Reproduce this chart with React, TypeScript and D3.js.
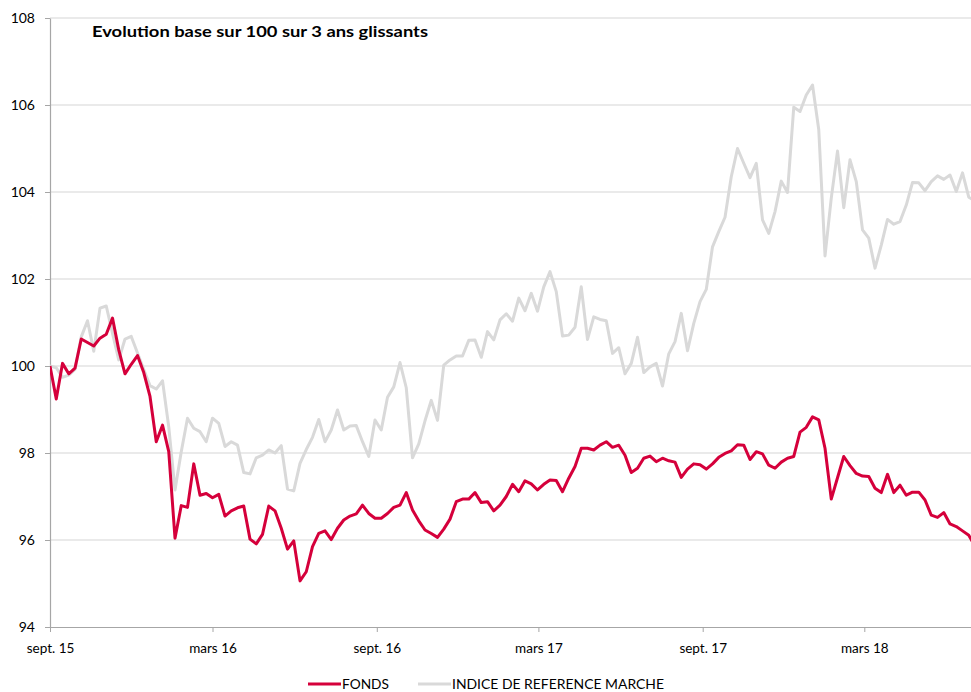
import React, { useRef, useEffect } from "react";
import * as d3 from "d3";

// weekly values, first week = 1 Sept 2015
const fonds = [
  100.0, 99.24, 100.06, 99.82, 99.95, 100.62, 100.54, 100.46, 100.64, 100.73,
  101.1, 100.37, 99.82, 100.04, 100.24, 99.85, 99.3, 98.26, 98.64, 98.03,
  96.04, 96.79, 96.75, 97.75, 97.03, 97.07, 96.97, 97.05, 96.55, 96.67,
  96.74, 96.78, 96.02, 95.91, 96.13, 96.78, 96.67, 96.27, 95.79, 95.98,
  95.06, 95.27, 95.85, 96.15, 96.21, 96.01, 96.27, 96.46, 96.55, 96.6,
  96.8, 96.61, 96.5, 96.5, 96.61, 96.75, 96.8, 97.09, 96.69, 96.44,
  96.23, 96.15, 96.06, 96.25, 96.48, 96.88, 96.94, 96.94, 97.09, 96.86,
  96.88, 96.67, 96.8, 97.0, 97.28, 97.11, 97.36, 97.29, 97.15, 97.28,
  97.38, 97.37, 97.11, 97.42, 97.69, 98.11, 98.11, 98.07, 98.18, 98.26,
  98.13, 98.18, 97.95, 97.55, 97.65, 97.88, 97.93, 97.8, 97.88, 97.82,
  97.79, 97.44, 97.63, 97.75, 97.73, 97.63, 97.75, 97.9, 97.99, 98.05,
  98.19, 98.18, 97.85, 98.03, 97.98, 97.72, 97.65, 97.79, 97.88, 97.92,
  98.48, 98.59, 98.83, 98.76, 98.11, 96.94, 97.43, 97.92, 97.71, 97.53,
  97.47, 97.46, 97.19, 97.09, 97.51, 97.09, 97.26, 97.03, 97.1, 97.1,
  96.92, 96.57, 96.52, 96.63, 96.37, 96.31, 96.21, 96.11, 95.85,
];

const indice = [
  100.0, 99.96, 99.74, 99.79, 99.92, 100.67, 101.04, 100.34, 101.33, 101.38,
  100.75, 100.14, 100.62, 100.68, 100.3, 99.92, 99.55, 99.47, 99.66, 98.6,
  97.15, 98.03, 98.8, 98.57, 98.49, 98.26, 98.8, 98.68, 98.15, 98.26,
  98.18, 97.55, 97.52, 97.89, 97.95, 98.07, 98.0, 98.17, 97.17, 97.13,
  97.76, 98.08, 98.36, 98.77, 98.26, 98.53, 98.99, 98.53, 98.62, 98.63,
  98.26, 97.92, 98.76, 98.53, 99.28, 99.52, 100.08, 99.5, 97.89, 98.21,
  98.74, 99.21, 98.75, 100.02, 100.14, 100.23, 100.23, 100.59, 100.6, 100.2,
  100.79, 100.6, 101.06, 101.2, 101.03, 101.56, 101.27, 101.67, 101.26, 101.82,
  102.17, 101.71, 100.69, 100.71, 100.89, 101.82, 100.61, 101.13, 101.07, 101.04,
  100.29, 100.42, 99.82, 100.06, 100.66, 99.85, 99.98, 100.06, 99.54, 100.28,
  100.56, 101.21, 100.35, 100.98, 101.48, 101.76, 102.74, 103.09, 103.42, 104.35,
  105.0, 104.66, 104.33, 104.66, 103.36, 103.05, 103.55, 104.25, 103.99, 105.95,
  105.85, 106.23, 106.46, 105.43, 102.53, 103.86, 104.94, 103.64, 104.74, 104.24,
  103.13, 102.94, 102.25, 102.78, 103.37, 103.26, 103.32, 103.7, 104.22, 104.21,
  104.03, 104.24, 104.37, 104.29, 104.39, 104.01, 104.44, 103.88, 103.8,
];

const yTicks = [94, 96, 98, 100, 102, 104, 106, 108];
const xTickDates = ["2015-09-01", "2016-03-01", "2016-09-01", "2017-03-01", "2017-09-01", "2018-03-01"];
const xTickLabels = ["sept. 15", "mars 16", "sept. 16", "mars 17", "sept. 17", "mars 18"];

const title = "Evolution base sur 100 sur 3 ans glissants";
const seriesNames = ["FONDS", "INDICE DE REFERENCE MARCHE"];
const colors = ["#d5003b", "#d9d9d9"];

export default function App() {
  const svgRef = useRef<SVGSVGElement>(null);

  useEffect(() => {
    if (!svgRef.current) return;
    const svg = d3.select(svgRef.current);
    svg.selectAll("*").remove();

    const width = 971;
    const height = 692;
    const left = 50;
    const top = 18;
    const bottom = 627;
    const font = "Lato, 'Open Sans', sans-serif";

    const start = new Date(2015, 8, 1);
    const day = 24 * 3600 * 1000;
    const end = new Date(start.getTime() + 1031.5 * day);
    const dateOf = (i: number) => new Date(start.getTime() + i * 7 * day);

    const x = d3.scaleTime().domain([start, end]).range([left, width]);
    const y = d3.scaleLinear().domain([94, 108]).range([bottom, top]);

    svg.append("clipPath").attr("id", "plot")
      .append("rect").attr("x", left).attr("y", 0).attr("width", width - left).attr("height", height);

    // grid
    svg.append("g")
      .selectAll("line")
      .data(yTicks.filter(t => t !== 94))
      .enter()
      .append("line")
      .attr("x1", left)
      .attr("x2", width)
      .attr("y1", d => y(d))
      .attr("y2", d => y(d))
      .attr("stroke", "#e3e3e3")
      .attr("stroke-width", 1.5);

    // y axis
    const yAxis = svg.append("g").attr("transform", `translate(${left},0)`)
      .call(d3.axisLeft(y).tickValues(yTicks).tickSize(5).tickSizeOuter(0).tickFormat(d3.format("d")));
    yAxis.select(".domain").attr("stroke", "#a6a6a6").attr("stroke-width", 1.2);
    yAxis.selectAll(".tick line").attr("stroke", "#a6a6a6");
    yAxis.selectAll(".tick text")
      .attr("x", -15)
      .attr("fill", "#000")
      .attr("font-size", 14)
      .attr("font-family", font);

    // x axis
    const xAxis = svg.append("g").attr("transform", `translate(0,${bottom})`)
      .call(d3.axisBottom(x)
        .tickValues(xTickDates.map(d => new Date(d + "T00:00:00")))
        .tickSize(5)
        .tickSizeOuter(0)
        .tickFormat((_d, i) => xTickLabels[i]));
    xAxis.select(".domain").attr("stroke", "#a6a6a6").attr("stroke-width", 1.2);
    xAxis.selectAll(".tick line").attr("stroke", "#a6a6a6");
    xAxis.selectAll(".tick text")
      .attr("y", 16)
      .attr("fill", "#000")
      .attr("font-size", 13.5)
      .attr("font-family", font);

    const line = d3.line<number>()
      .x((_d, i) => x(dateOf(i)))
      .y(d => y(d));

    const plot = svg.append("g").attr("clip-path", "url(#plot)");
    plot.append("path")
      .datum(indice)
      .attr("fill", "none")
      .attr("stroke", colors[1])
      .attr("stroke-width", 3)
      .attr("stroke-linejoin", "round")
      .attr("d", line);
    plot.append("path")
      .datum(fonds)
      .attr("fill", "none")
      .attr("stroke", colors[0])
      .attr("stroke-width", 3)
      .attr("stroke-linejoin", "round")
      .attr("d", line);

    // title
    svg.append("text")
      .attr("x", 92)
      .attr("y", 37)
      .attr("font-size", 16)
      .attr("font-weight", "bold")
      .attr("font-family", font)
      .attr("textLength", 336)
      .attr("lengthAdjust", "spacingAndGlyphs")
      .text(title);

    // legend
    const legendX = [308, 418];
    const legendW = [47, 212];
    const lg = svg.append("g");
    seriesNames.forEach((name, i) => {
      lg.append("line")
        .attr("x1", legendX[i])
        .attr("x2", legendX[i] + 33)
        .attr("y1", 684)
        .attr("y2", 684)
        .attr("stroke", colors[i])
        .attr("stroke-width", 3);
      lg.append("text")
        .attr("x", legendX[i] + 34)
        .attr("y", 689)
        .attr("font-size", 14)
        .attr("font-family", font)
        .attr("textLength", legendW[i])
        .attr("lengthAdjust", "spacingAndGlyphs")
        .text(name);
    });
  }, []);

  return (
    <svg
      ref={svgRef}
      width={971}
      height={692}
      style={{ position: "absolute", left: 0, top: 0, background: "#fff" }}
    />
  );
}
